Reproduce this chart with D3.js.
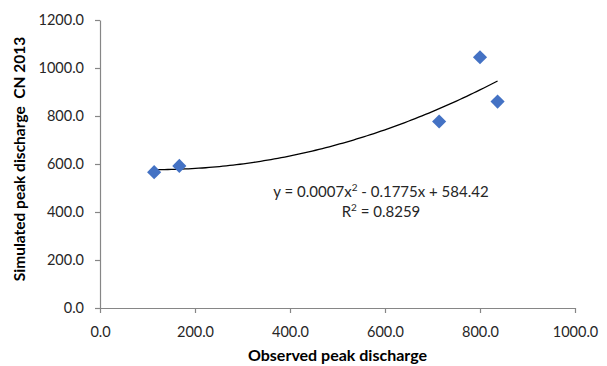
<!DOCTYPE html>
<html>
<head>
<meta charset="utf-8">
<script src="https://cdn.jsdelivr.net/npm/d3@7"></script>
<style>
  body { margin: 0; background: #fff; }
  svg { display: block; font-family: Lato, "Open Sans", sans-serif; }
</style>
</head>
<body>
<svg id="chart" width="607" height="366"></svg>
<script>
// observed vs simulated peak discharge
const observed = [114, 167, 714, 800, 837];
const simulated = [566, 592, 777, 1045, 860];
const xTicks = [0, 200, 400, 600, 800, 1000];
const yTicks = [0, 200, 400, 600, 800, 1000, 1200];
const equationText = ["y = 0.0007x", "2", " - 0.1775x + 584.42"];
const r2Text = ["R", "2", " = 0.8259"];

const svg = d3.select("#chart");
const x = d3.scaleLinear().domain([0, 1000]).range([100, 575]);
const y = d3.scaleLinear().domain([0, 1200]).range([308, 20]);
const axisColor = "#868686";
const fmt = d => d.toFixed(1);

// axes
const xAxis = svg.append("g")
  .attr("transform", "translate(0,308)")
  .call(d3.axisBottom(x).tickValues(xTicks).tickFormat(fmt).tickSize(5).tickSizeOuter(0));
const yAxis = svg.append("g")
  .attr("transform", "translate(100,0)")
  .call(d3.axisLeft(y).tickValues(yTicks).tickFormat(fmt).tickSize(5).tickSizeOuter(0));

[xAxis, yAxis].forEach(g => {
  g.select(".domain").attr("stroke", axisColor).attr("stroke-width", 1.2);
  g.selectAll(".tick line").attr("stroke", axisColor).attr("stroke-width", 1.2);
  g.selectAll(".tick text")
    .attr("fill", "#262626")
    .style("font-size", "14.5px")
    .style("font-family", "Lato, sans-serif");
});
xAxis.selectAll(".tick text").attr("dy", null).attr("y", 29);
yAxis.selectAll(".tick text").attr("x", -16);

// quadratic least-squares trendline
const fitQuad = (xs, ys) => {
  const s = k => d3.sum(xs, v => Math.pow(v, k));
  const t = k => d3.sum(xs, (v, i) => Math.pow(v, k) * ys[i]);
  const A = [[s(0), s(1), s(2)], [s(1), s(2), s(3)], [s(2), s(3), s(4)]];
  const b = [t(0), t(1), t(2)];
  const n = 3;
  for (let i = 0; i < n; i++) {
    for (let j = i + 1; j < n; j++) {
      const f = A[j][i] / A[i][i];
      for (let k = i; k < n; k++) A[j][k] -= f * A[i][k];
      b[j] -= f * b[i];
    }
  }
  const c = [0, 0, 0];
  for (let i = n - 1; i >= 0; i--) {
    let acc = b[i];
    for (let k = i + 1; k < n; k++) acc -= A[i][k] * c[k];
    c[i] = acc / A[i][i];
  }
  return v => c[0] + c[1] * v + c[2] * v * v;
};
const trend = fitQuad(observed, simulated);
const x0 = d3.min(observed), x1 = d3.max(observed);
const trendPts = d3.range(0, 101).map(i => x0 + (x1 - x0) * i / 100);

svg.append("path")
  .datum(trendPts)
  .attr("fill", "none")
  .attr("stroke", "#000")
  .attr("stroke-width", 1.3)
  .attr("d", d3.line().x(d => x(d)).y(d => y(trend(d))));

// markers
const diamond = d3.symbol().type(d3.symbolSquare).size(100);
svg.append("g")
  .selectAll("path")
  .data(observed)
  .join("path")
  .attr("d", diamond)
  .attr("transform", (d, i) => `translate(${x(d)},${y(simulated[i])}) rotate(45)`)
  .attr("fill", "#4472C4");

// equation label
const addSup = (parts, yPos) => {
  const t = svg.append("text")
    .attr("x", 381)
    .attr("y", yPos)
    .attr("text-anchor", "middle")
    .attr("fill", "#262626")
    .style("font-size", "15px");
  t.append("tspan").text(parts[0]);
  t.append("tspan").attr("dy", -6).style("font-size", "10px").text(parts[1]);
  t.append("tspan").attr("dy", 6).text(parts[2]);
};
addSup(equationText, 197);
addSup(r2Text, 217);

// axis titles
svg.append("text")
  .attr("x", 337.5)
  .attr("y", 361)
  .attr("text-anchor", "middle")
  .attr("font-weight", "bold")
  .attr("fill", "#000")
  .style("font-size", "16px")
  .text("Observed peak discharge");

svg.append("text")
  .attr("transform", "translate(25,159) rotate(-90)")
  .attr("text-anchor", "middle")
  .attr("font-weight", "bold")
  .attr("fill", "#000")
  .style("font-size", "15.5px")
  .style("white-space", "pre")
  .text("Simulated peak discharge  CN 2013");
</script>
</body>
</html>
